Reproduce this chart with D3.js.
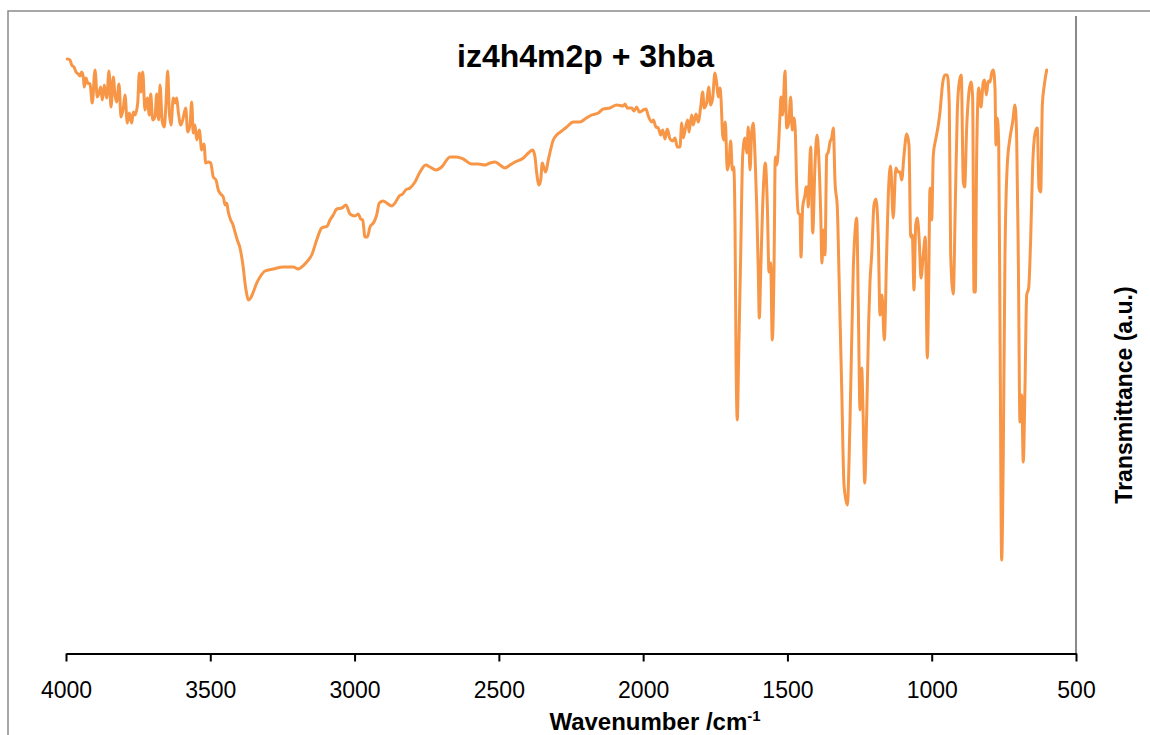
<!DOCTYPE html>
<html>
<head>
<meta charset="utf-8">
<script src="https://cdn.jsdelivr.net/npm/d3@7"></script>
<style>
  html, body { margin: 0; padding: 0; background: #fff; }
  svg { display: block; }
  text { font-family: "Liberation Sans", Arial, sans-serif; fill: #000; }
</style>
</head>
<body>
<svg id="chart" width="1150" height="735"></svg>
<script>
// FTIR spectrum of iz4h4m2p + 3hba (wavenumber in cm^-1, transmittance in arbitrary units)
const wavenumber = [
  3995.5, 3986.1, 3980.2, 3972.3, 3965.3, 3957.4, 3951.5, 3945.6, 3940.0, 3936.6,
  3930.7, 3924.8, 3916.8, 3908.9, 3899.5, 3891.5, 3884.6, 3879.8, 3874.2, 3867.3,
  3859.0, 3851.0, 3844.1, 3836.1, 3830.2, 3824.3, 3816.3, 3809.4, 3801.4, 3795.5,
  3787.6, 3780.6, 3772.3, 3766.8, 3760.9, 3751.5, 3746.0, 3740.1, 3734.2, 3726.2,
  3718.3, 3711.3, 3706.5, 3699.6, 3691.6, 3685.7, 3678.8, 3674.3, 3666.3, 3659.4,
  3653.5, 3647.6, 3642.0, 3636.1, 3628.2, 3622.3, 3616.4, 3610.8, 3602.5, 3595.6,
  3585.2, 3578.3, 3570.3, 3564.4, 3558.9, 3553.0, 3547.1, 3538.1, 3529.8, 3521.8,
  3515.9, 3506.9, 3498.6, 3489.6, 3480.2, 3472.2, 3463.9, 3454.9, 3449.0, 3443.1,
  3437.6, 3429.3, 3422.3, 3414.4, 3406.4, 3397.0, 3391.1, 3385.6, 3379.7, 3373.8,
  3368.3, 3359.9, 3350.9, 3339.2, 3327.7, 3310.4, 3281.6, 3247.0, 3212.4, 3195.0,
  3183.3, 3165.9, 3148.6, 3131.3, 3113.9, 3094.5, 3085.2, 3073.7, 3061.9, 3044.6,
  3029.7, 3015.9, 2998.5, 2987.1, 2978.8, 2971.9, 2963.9, 2955.9, 2946.5, 2932.7,
  2923.3, 2914.3, 2900.5, 2888.7, 2871.3, 2859.9, 2845.0, 2833.3, 2822.8, 2807.9,
  2790.6, 2773.3, 2753.5, 2738.6, 2717.8, 2698.1, 2669.3, 2646.1, 2623.3, 2594.1,
  2571.3, 2548.1, 2530.7, 2513.4, 2496.1, 2478.8, 2461.4, 2444.1, 2415.3, 2398.0,
  2382.7, 2374.8, 2368.9, 2360.9, 2355.0, 2349.5, 2343.6, 2337.7, 2328.7, 2311.3,
  2299.6, 2282.3, 2264.9, 2242.1, 2218.8, 2201.5, 2178.3, 2155.4, 2138.1, 2114.9,
  2091.7, 2068.8, 2062.9, 2054.9, 2039.7, 2031.7, 2022.4, 2013.3, 1999.5, 1990.1,
  1982.2, 1970.4, 1964.8, 1955.5, 1947.5, 1939.2, 1932.2, 1924.3, 1916.3, 1906.9,
  1897.6, 1889.6, 1881.6, 1872.3, 1866.4, 1860.9, 1852.6, 1845.6, 1841.1, 1831.8,
  1826.3, 1816.9, 1809.0, 1800.6, 1793.7, 1788.2, 1779.9, 1773.0, 1766.0, 1759.1,
  1751.1, 1745.2, 1739.7, 1733.7, 1730.3, 1724.4, 1719.8, 1715.3, 1708.4, 1702.5,
  1696.6, 1691.0, 1686.2, 1681.7, 1678.2, 1673.8, 1668.9, 1662.0, 1655.0, 1647.1,
  1641.2, 1635.6, 1629.7, 1623.8, 1618.3, 1612.4, 1606.5, 1600.9, 1597.5, 1592.6,
  1585.7, 1576.6, 1569.7, 1563.9, 1558.0, 1552.5, 1546.6, 1542.0, 1537.2, 1531.7,
  1525.8, 1522.3, 1516.4, 1508.4, 1502.5, 1495.6, 1488.7, 1483.1, 1477.3, 1472.7,
  1467.9, 1462.4, 1456.5, 1453.0, 1447.1, 1439.1, 1435.7, 1431.2, 1427.7, 1424.2,
  1419.4, 1412.4, 1404.5, 1397.6, 1391.7, 1384.8, 1380.3, 1375.8, 1369.8, 1363.9,
  1358.4, 1352.5, 1346.6, 1341.0, 1335.1, 1327.1, 1320.2, 1311.9, 1303.9, 1292.5,
  1283.2, 1271.7, 1265.8, 1259.9, 1254.4, 1248.5, 1242.6, 1238.1, 1232.2, 1225.3,
  1218.4, 1213.9, 1208.0, 1200.0, 1193.1, 1185.1, 1179.2, 1172.3, 1164.3, 1156.3,
  1149.4, 1142.4, 1133.4, 1124.2, 1115.8, 1109.9, 1104.0, 1096.0, 1086.7, 1078.7,
  1072.9, 1067.3, 1061.4, 1055.5, 1050.0, 1043.0, 1037.2, 1029.2, 1022.2, 1015.3,
  1010.5, 1006.0, 1000.1, 994.5, 985.2, 977.2, 971.3, 962.0, 954.0, 946.0,
  939.1, 934.3, 925.3, 918.3, 911.4, 904.5, 897.5, 890.6, 885.8, 878.9,
  870.9, 864.0, 858.1, 853.5, 849.0, 844.2, 837.2, 829.3, 821.3, 816.5,
  810.9, 804.0, 798.1, 792.2, 786.7, 780.7, 777.3, 772.7, 767.8, 763.4,
  757.6, 752.0, 746.1, 738.2, 728.8, 719.5, 711.4, 705.6, 700.0, 694.1,
  688.2, 682.7, 676.8, 670.9, 664.0, 657.0, 650.1, 641.0, 634.1, 628.2,
  622.3, 616.7, 609.8, 601.6
];

const transmittance = [
  59.6, 59.5, 59.0, 58.8, 58.3, 58.1, 57.9, 58.3, 57.8, 56.8,
  57.7, 57.2, 57.1, 55.2, 58.5, 55.8, 56.3, 56.8, 55.5, 57.0,
  55.7, 58.4, 54.8, 57.8, 56.0, 55.3, 57.1, 53.8, 54.7, 56.0,
  53.2, 54.2, 53.2, 54.3, 54.0, 55.2, 58.2, 56.3, 58.3, 54.5,
  55.7, 54.0, 56.1, 53.5, 53.8, 56.1, 53.5, 57.0, 53.3, 52.8,
  55.2, 58.4, 54.3, 53.0, 55.7, 55.2, 55.7, 54.3, 53.0, 53.5,
  54.7, 52.3, 53.0, 55.3, 52.2, 53.0, 51.5, 52.5, 50.5, 51.1,
  49.2, 49.3, 49.2, 47.8, 47.5, 46.5, 46.1, 45.8, 45.0, 45.2,
  44.3, 43.5, 43.1, 42.3, 41.5, 40.7, 39.8, 38.7, 37.2, 36.1,
  35.5, 35.7, 36.3, 37.2, 37.8, 38.4, 38.6, 38.8, 38.8, 38.6,
  38.8, 39.3, 40.0, 41.5, 42.7, 42.9, 43.5, 44.0, 44.6, 44.7,
  45.0, 44.1, 43.9, 44.1, 43.6, 43.5, 41.8, 41.8, 42.8, 43.3,
  44.0, 45.2, 45.4, 45.2, 44.9, 45.2, 45.9, 46.1, 46.5, 46.7,
  47.3, 48.3, 49.0, 48.8, 48.5, 48.8, 49.8, 49.8, 49.6, 49.1,
  49.1, 49.0, 49.2, 49.3, 49.0, 48.7, 49.0, 49.3, 49.7, 50.2,
  50.5, 49.8, 48.2, 47.0, 47.5, 49.2, 48.7, 48.3, 49.5, 51.5,
  52.0, 52.4, 52.8, 53.3, 53.3, 53.6, 54.0, 54.2, 54.6, 54.7,
  55.0, 54.9, 55.1, 54.7, 54.7, 54.4, 54.8, 54.3, 54.5, 54.6,
  53.9, 53.3, 53.5, 52.8, 52.7, 52.0, 52.5, 51.6, 52.6, 51.6,
  51.4, 51.7, 50.8, 50.8, 53.2, 51.7, 52.8, 53.5, 52.3, 54.0,
  53.0, 54.1, 53.3, 54.8, 56.3, 54.7, 55.2, 56.8, 55.0, 55.7,
  58.2, 57.2, 55.8, 56.7, 55.7, 52.0, 51.5, 53.3, 48.5, 49.3,
  51.4, 48.5, 48.8, 43.3, 30.0, 23.5, 30.0, 40.0, 50.0, 51.7,
  50.2, 52.8, 48.5, 52.3, 53.2, 50.0, 45.0, 38.3, 33.7, 38.3,
  45.0, 49.2, 45.0, 38.3, 39.2, 31.5, 38.3, 49.8, 49.0, 50.5,
  54.0, 55.8, 54.0, 58.4, 52.7, 53.2, 55.8, 52.5, 53.7, 52.3,
  47.0, 44.2, 44.0, 39.8, 44.8, 46.0, 46.8, 46.8, 44.8, 48.0,
  50.8, 42.2, 49.0, 52.0, 50.0, 44.3, 39.2, 42.5, 40.0, 50.0,
  50.3, 51.3, 51.7, 52.7, 47.3, 44.7, 36.7, 26.7, 17.0, 15.0,
  23.3, 38.7, 42.3, 43.7, 35.0, 24.5, 28.7, 24.5, 17.2, 24.0,
  33.3, 37.3, 40.0, 45.0, 45.6, 41.7, 34.0, 36.0, 31.5, 40.0,
  46.7, 48.9, 43.7, 48.7, 48.3, 48.3, 47.5, 50.0, 52.1, 51.0,
  41.8, 42.0, 36.5, 43.0, 43.7, 41.3, 37.7, 40.0, 41.8, 29.7,
  36.7, 46.7, 43.5, 50.0, 51.7, 53.0, 54.3, 57.2, 58.0, 58.0,
  55.0, 40.0, 36.1, 45.0, 54.3, 57.3, 58.0, 47.3, 46.8, 52.7,
  56.3, 57.3, 55.7, 36.3, 36.3, 50.0, 56.7, 54.8, 57.3, 57.5,
  56.0, 57.4, 57.3, 58.2, 58.5, 56.7, 51.0, 53.7, 51.0, 33.3,
  9.5, 20.0, 40.0, 49.0, 51.7, 53.3, 55.0, 51.7, 40.0, 23.3,
  26.0, 19.3, 26.7, 36.0, 36.7, 41.7, 49.0, 52.3, 52.7, 46.7,
  46.3, 55.0, 57.0, 58.5
];

const xTicks = [4000, 3500, 3000, 2500, 2000, 1500, 1000, 500];

const chartTitle = "iz4h4m2p + 3hba";
const xTitle = "Wavenumber /cm";
const xTitleSup = "-1";
const yTitle = "Transmittance (a.u.)";

const spectrum = wavenumber.map((w, i) => ({ w, t: transmittance[i] }));

const svg = d3.select("#chart");

// reversed wavenumber axis, arbitrary transmittance axis
const x = d3.scaleLinear().domain([4000, 500]).range([66, 1076]);
const y = d3.scaleLinear().domain([0, 64]).range([655, 15]);

// outer chart-area border (left and top edges)
svg.append("path")
  .attr("d", "M8,735V11H1150")
  .attr("fill", "none")
  .attr("stroke", "#8a8a8a")
  .attr("stroke-width", 1.5);

// value axis line, placed at the low-wavenumber end
const yAxis = svg.append("g")
  .attr("transform", `translate(${x(500)},0)`)
  .call(d3.axisLeft(y).tickValues([]).tickSizeOuter(0));
yAxis.select(".domain")
  .attr("stroke", "#8a8a8a")
  .attr("stroke-width", 2)
  .attr("d", `M0,${y(63.9)}V${y(0)}`);

// spectrum line
const line = d3.line()
  .x(d => x(d.w))
  .y(d => y(d.t))
  .curve(d3.curveMonotoneX);

svg.append("path")
  .datum(spectrum)
  .attr("d", line)
  .attr("fill", "none")
  .attr("stroke", "#F79646")
  .attr("stroke-width", 3)
  .attr("stroke-linejoin", "round")
  .attr("stroke-linecap", "round");

// wavenumber axis
const xAxis = svg.append("g")
  .attr("transform", `translate(0,${y(0) - 1.5})`)
  .call(d3.axisBottom(x).tickValues(xTicks).tickFormat(d3.format("d")).tickSize(8).tickSizeOuter(0));
xAxis.select(".domain").attr("stroke", "#000").attr("stroke-width", 2);
xAxis.selectAll(".tick line").attr("stroke", "#000").attr("stroke-width", 2);
xAxis.selectAll(".tick text")
  .attr("y", 44.5)
  .attr("dy", 0)
  .style("font-family", "'Liberation Sans', Arial, sans-serif")
  .style("font-size", "23px")
  .attr("fill", "#000");

// titles
svg.append("text")
  .attr("x", 585.5)
  .attr("y", 67)
  .attr("text-anchor", "middle")
  .style("font-size", "32px")
  .style("font-weight", "bold")
  .text(chartTitle);

const xt = svg.append("text")
  .attr("x", 655)
  .attr("y", 730)
  .attr("text-anchor", "middle")
  .style("font-size", "24px")
  .style("font-weight", "bold");
xt.append("tspan").text(xTitle);
xt.append("tspan")
  .attr("dy", -9)
  .style("font-size", "15px")
  .text(xTitleSup);

svg.append("text")
  .attr("transform", "translate(1131.5,395) rotate(-90)")
  .attr("text-anchor", "middle")
  .style("font-size", "23px")
  .style("font-weight", "bold")
  .text(yTitle);
</script>
</body>
</html>
